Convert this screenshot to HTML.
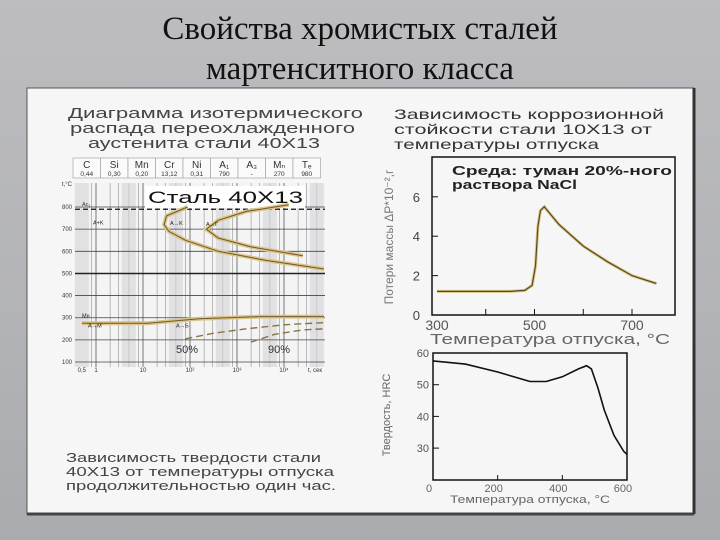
<!DOCTYPE html>
<html><head><meta charset="utf-8">
<style>
body{margin:0;width:720px;height:540px;overflow:hidden;background:linear-gradient(#bdbdc0,#b2b3b6 60%,#a9abae);font-family:"Liberation Sans","DejaVu Sans",sans-serif;}
.title{position:absolute;left:0;width:720px;text-align:center;font-family:"Liberation Serif","DejaVu Serif",serif;font-size:33px;color:#111;line-height:40px;top:9px;}
svg{position:absolute;left:0;top:0}
</style></head><body>
<div class="title">Свойства хромистых сталей<br>мартенситного класса</div>
<svg width="720" height="540" font-family="Liberation Sans, DejaVu Sans, sans-serif">
<rect x="27" y="88" width="667" height="426" fill="#f6f6f6" stroke="#555" stroke-width="1"/>
<line x1="694" y1="88" x2="694" y2="514" stroke="#333" stroke-width="3"/>
<line x1="27" y1="514" x2="694" y2="514" stroke="#444" stroke-width="3"/>
<g id="ttt"></g>
<g id="corr"></g>
<g id="hard"></g>
</svg>
<script>
// ---- data ----
const corrTemps=[300,400,450,480,495,502,507,512,520,530,550,600,650,700,750];
const corrLoss=[1.2,1.2,1.2,1.25,1.5,2.5,4.5,5.3,5.5,5.2,4.6,3.5,2.7,2.0,1.6];
const corrXTicks=[300,500,700];
const corrYTicks=[0,2,4,6];
const hardTemps=[0,100,200,300,350,400,450,475,490,510,530,560,590,600];
const hardHRC=[57.5,56.5,54,51,51,52.5,55,56,55,49,42,34,29,28];
const hardXTicks=[0,200,400,600];
const hardYTicks=[30,40,50,60];
const tttYTicks=[100,200,300,400,500,600,700,800];
const tttXLabels=["0,5","1","10","10²","10³","10⁴"];
const tttXValues=[0.5,1,10,100,1000,10000];
const curveStartT=[800,760,720,690,650,600,560,520];
const curveStartLogt=[1.95,1.5,1.45,1.55,1.9,2.6,3.6,4.85];
const curveEndT=[810,780,740,700,660,620,580];
const curveEndLogt=[4.1,3.2,2.6,2.35,2.6,3.3,4.4];
const msLogt=[-0.3,1.1,2.2,3.5,4.85];
const msT=[275,275,295,305,305];
const b50Logt=[1.9,2.5,3.2,4.0,4.85];
const b50T=[205,230,250,268,278];
const b90Logt=[3.3,3.8,4.4,4.85];
const b90T=[190,225,245,250];
const tableHead=["C","Si","Mn","Cr","Ni","A₁","A₃","Mₙ","Tₑ"];
const tableVals=["0,44","0,30","0,20","13,12","0,31","790","-","270","980"];

const NS="http://www.w3.org/2000/svg";
const LA='spacingAndGlyphs';
function mk(parent,tag,attrs,name,text){const e=document.createElementNS(NS,tag);for(const k in attrs)e.setAttribute(k,attrs[k]);


if(text!==undefined)e.textContent=text;parent.appendChild(e);return e;}
function path(xs,ys,fx,fy){return xs.map((v,i)=>(i?'L':'M')+fx(v).toFixed(1)+','+fy(ys[i]).toFixed(1)).join(' ');}

// ---- corrosion chart ----
(function(){
const g=document.getElementById('corr');
const x=v=>437+(v-300)*0.4875, y=v=>315-v*19.7;
[["Зависимость коррозионной",270],["стойкости стали 10Х13 от",258],["температуры отпуска",205]].forEach((t,i)=>mk(g,'text',{x:394,y:119+i*15,'font-size':14,fill:'#333',textLength:t[1],lengthAdjust:LA},'corrosion-title-line',t[0]));
mk(g,'rect',{x:432,y:157,width:243,height:158,fill:'none',stroke:'#111','stroke-width':1.5},'corrosion-plot-frame');
[["Среда: туман 20%-ного",220],["раствора NaCl",125]].forEach((t,i)=>mk(g,'text',{x:452,y:175+i*14,'font-size':13,'font-weight':'bold',fill:'#222',textLength:t[1],lengthAdjust:LA},'corrosion-annotation',t[0]));
corrYTicks.forEach(v=>{mk(g,'line',{x1:432,x2:438,y1:y(v),y2:y(v),stroke:'#111'},'y-tick');mk(g,'text',{x:420,y:y(v)+5,'font-size':13,'text-anchor':'end',fill:'#444'},'y-tick-label',v);});
[400,500,600,700].forEach(v=>mk(g,'line',{x1:x(v),x2:x(v),y1:315,y2:309,stroke:'#111'},'x-tick'));
corrXTicks.forEach(v=>mk(g,'text',{x:x(v),y:330,'font-size':14,'text-anchor':'middle',fill:'#555'},'x-tick-label',v));
mk(g,'text',{x:430,y:344,'font-size':15,fill:'#666',textLength:240,lengthAdjust:LA},'x-axis-title','Температура отпуска, °С');
mk(g,'text',{x:0,y:0,'font-size':12,'text-anchor':'middle',fill:'#777',transform:'translate(393,237) rotate(-90)'},'y-axis-title','Потери массы ΔP*10⁻²,г');
mk(g,'path',{d:path(corrTemps,corrLoss,x,y),fill:'none',stroke:'#d9c486','stroke-width':3},'corrosion-curve-halo');
mk(g,'path',{d:path(corrTemps,corrLoss,x,y),fill:'none',stroke:'#5a4a20','stroke-width':1.2},'corrosion-curve');
})();

// ---- hardness chart ----
(function(){
const g=document.getElementById('hard');
const x=v=>433+v*0.3233, y=v=>353+(60-v)*3.17;
mk(g,'rect',{x:433,y:353,width:194,height:127,fill:'none',stroke:'#111','stroke-width':1.5},'hardness-plot-frame');
hardYTicks.forEach(v=>{mk(g,'line',{x1:433,x2:439,y1:y(v),y2:y(v),stroke:'#111'},'y-tick');mk(g,'text',{x:429,y:y(v)+4,'font-size':11,'text-anchor':'end',fill:'#555'},'y-tick-label',v);});
hardXTicks.forEach(v=>{mk(g,'line',{x1:x(v),x2:x(v),y1:480,y2:475,stroke:'#111'},'x-tick');mk(g,'text',{x:x(v)-4,y:492,'font-size':11,'text-anchor':'middle',fill:'#666'},'x-tick-label',v);});
mk(g,'text',{x:450,y:503,'font-size':11,fill:'#666',textLength:160,lengthAdjust:LA},'x-axis-title','Температура отпуска, °С');
mk(g,'text',{x:0,y:0,'font-size':11,'text-anchor':'middle',fill:'#666',transform:'translate(390,415) rotate(-90)'},'y-axis-title','Твердость, HRC');
mk(g,'path',{d:path(hardTemps,hardHRC,x,y),fill:'none',stroke:'#111','stroke-width':1.6},'hardness-curve');
})();

// ---- TTT diagram ----
(function(){
const g=document.getElementById('ttt');
const x=l=>96+l*47, y=T=>362-(T-100)*0.2214;
[["Диаграмма изотермического",68,295],["распада переохлажденного",70,285],["аустенита стали 40Х13",88,232]].forEach((t,i)=>mk(g,'text',{x:t[1],y:118+i*15,'font-size':15,fill:'#444',textLength:t[2],lengthAdjust:LA},'ttt-title-line',t[0]));
const cw=27.5;
tableHead.forEach((h,i)=>{mk(g,'rect',{x:73+i*cw,y:158,width:cw,height:20,fill:'#fafafa',stroke:'#999','stroke-width':0.6},'table-cell');
mk(g,'text',{x:73+i*cw+cw/2,y:168,'font-size':10,'text-anchor':'middle',fill:'#333'},'table-header',h);
mk(g,'text',{x:73+i*cw+cw/2,y:176,'font-size':6.5,'text-anchor':'middle',fill:'#333'},'table-value',tableVals[i]);});
mk(g,'rect',{x:75,y:183,width:250,height:184,fill:'#f4f4f4'},'ttt-plot-bg');
for(let d=-1;d<5;d++){for(let m=1;m<10;m++){if(m!==1&&m!==2&&m!==3&&m!==5&&m!==8)continue;const l=d+Math.log10(m);if(l<-0.3||l>4.9)continue;const xx=x(l);
mk(g,'line',{x1:xx,x2:xx,y1:183,y2:367,stroke:m===1?'#777':'#aaa','stroke-width':m===1?1:0.8},'log-grid-line');}
mk(g,'rect',{x:x(d+0.55),y:183,width:14,height:184,fill:'#d4d4d8',opacity:0.6},'grid-band');}
tttYTicks.forEach(v=>{mk(g,'line',{x1:75,x2:325,y1:y(v),y2:y(v),stroke:v===500?'#222':'#444','stroke-width':v===500?1.5:0.8},'h-grid-line');
mk(g,'text',{x:72,y:y(v)+2,'font-size':6,'text-anchor':'end',fill:'#333'},'y-tick-label',v);});
mk(g,'text',{x:72,y:186,'font-size':6,'text-anchor':'end',fill:'#333'},'y-axis-unit','t,°C');
mk(g,'line',{x1:75,x2:325,y1:y(790),y2:y(790),stroke:'#111','stroke-width':1.2,'stroke-dasharray':'5,3'},'ac1-line');
mk(g,'text',{x:82,y:y(790)-3,'font-size':5.5,fill:'#333'},'ac1-label','Ac₁');
mk(g,'rect',{x:145,y:186,width:160,height:22,fill:'#fff'},'steel-label-bg');
mk(g,'text',{x:148,y:203,'font-size':17,fill:'#111',textLength:155,lengthAdjust:LA},'steel-label','Сталь 40Х13');
tttXValues.forEach((v,i)=>mk(g,'text',{x:x(Math.log10(v)),y:372,'font-size':6,'text-anchor':'middle',fill:'#333'},'x-tick-label',tttXLabels[i]));
mk(g,'text',{x:315,y:372,'font-size':6,'text-anchor':'middle',fill:'#333'},'x-axis-title','t, сек');
[[curveStartLogt,curveStartT,'start-curve'],[curveEndLogt,curveEndT,'end-curve'],[msLogt,msT,'ms-curve']].forEach(c=>{
mk(g,'path',{d:path(c[0],c[1],x,y),fill:'none',stroke:'#dcc48a','stroke-width':4},c[2]+'-halo');
mk(g,'path',{d:path(c[0],c[1],x,y),fill:'none',stroke:'#6b5a2a','stroke-width':1},c[2]);});
[[b50Logt,b50T,'bainite-50-curve'],[b90Logt,b90T,'bainite-90-curve']].forEach(c=>mk(g,'path',{d:path(c[0],c[1],x,y),fill:'none',stroke:'#8a7440','stroke-width':1.4,'stroke-dasharray':'7,4'},c[2]));
[["A+K",93,y(720)],["A→K",170,y(718)],["A→Г",206,y(715)],["Mн",82,y(300)],["A→M",88,y(255)],["A→Б",176,y(255)]].forEach(a=>mk(g,'text',{x:a[1],y:a[2],'font-size':5.5,fill:'#222'},'region-label',a[0]));
mk(g,'text',{x:176,y:353,'font-size':11,fill:'#333'},'label-50-percent','50%');
mk(g,'text',{x:268,y:353,'font-size':11,fill:'#333'},'label-90-percent','90%');
[["Зависимость твердости стали",255],["40Х13 от температуры отпуска",268],["продолжительностью один час.",270]].forEach((t,i)=>mk(g,'text',{x:66,y:462+i*14,'font-size':12.5,fill:'#444',textLength:t[1],lengthAdjust:LA},'hardness-caption-line',t[0]));
})();
</script>
</body></html>
